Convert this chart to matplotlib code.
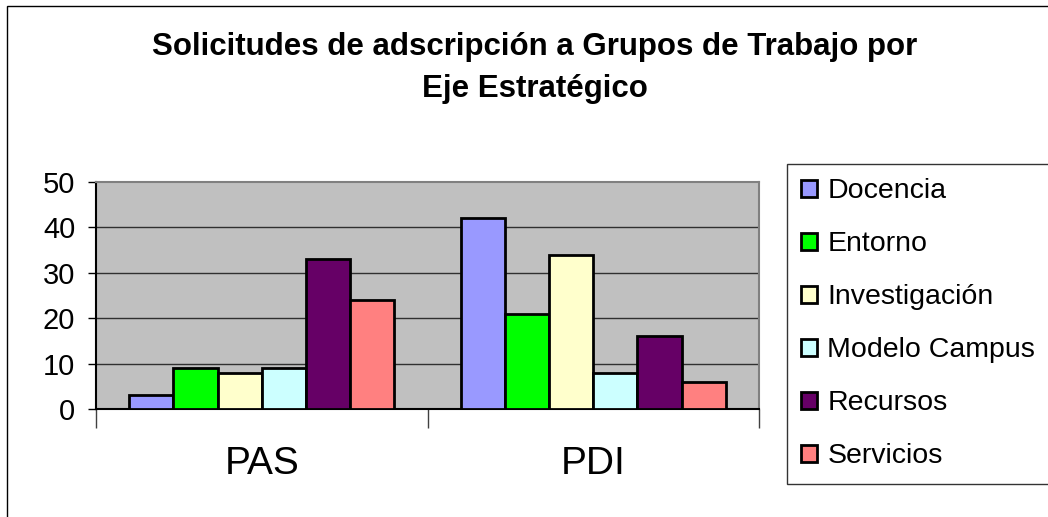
import matplotlib.pyplot as plt
import matplotlib.patches as mpatches
import numpy as np

plt.rcParams['font.family'] = ['Liberation Sans', 'DejaVu Sans']

# data
groups = ['PAS', 'PDI']
series = ['Docencia', 'Entorno', 'Investigación', 'Modelo Campus', 'Recursos', 'Servicios']
values = {
    'Docencia': [3, 42],
    'Entorno': [9, 21],
    'Investigación': [8, 34],
    'Modelo Campus': [9, 8],
    'Recursos': [33, 16],
    'Servicios': [24, 6],
}
colors = ['#9999FF', '#00FF00', '#FFFFCC', '#CCFFFF', '#660066', '#FF8080']
yticks = [0, 10, 20, 30, 40, 50]

W, H = 1048, 517
fig = plt.figure(figsize=(W / 100, H / 100), dpi=100)

# outer chart border
fig.patches.append(mpatches.Rectangle((7 / W, -0.1), 1.2, 1.1 - 6 / H, transform=fig.transFigure,
                                      fill=False, edgecolor='black', linewidth=1))

ax = fig.add_axes([96 / W, 108 / H, 663 / W, 227 / H])
ax.set_facecolor('#C0C0C0')

x = np.arange(len(groups))
w = 1 / 7.5
for j, name in enumerate(series):
    ax.bar(x + (j - 2.5) * w, values[name], width=w, color=colors[j],
           edgecolor='black', linewidth=2, label=name, zorder=3)

ax.set_xlim(-0.5, 1.5)
ax.set_ylim(0, 50)
ax.set_yticks(yticks)
for v in yticks[1:-1]:
    ax.axhline(v, color='#303030', linewidth=1, zorder=1)

ax.tick_params(axis='y', labelsize=21, length=6, width=1, pad=9)
ax.set_xticks(x)
ax.set_xticklabels(groups, fontsize=28)
ax.tick_params(axis='x', which='major', length=0, pad=27)
ax.set_xticks([-0.5, 0.5, 1.5], minor=True)
ax.tick_params(axis='x', which='minor', length=14, width=1, color='#404040')

ax.spines['left'].set_color('black')
ax.spines['bottom'].set_color('black')
ax.spines['top'].set_color('#808080')
ax.spines['right'].set_color('#808080')
for s in ax.spines.values():
    s.set_linewidth(1.5)

fig.text(535 / W, 1 - 68 / H, 'Solicitudes de adscripción a Grupos de Trabajo por\nEje Estratégico',
         ha='center', va='center', fontsize=22.5, fontweight='bold', linespacing=1.5)

leg = fig.legend(loc='upper left', bbox_to_anchor=(787 / W, 1 - 164 / H), frameon=True,
                 fancybox=False, edgecolor='black', fontsize=20.5, handlelength=0.56,
                 handleheight=0.56, handletextpad=0.36, labelspacing=0.95,
                 borderpad=0.5, borderaxespad=0)
leg.get_frame().set_linewidth(1)

fig.savefig('out.png', dpi=100)
